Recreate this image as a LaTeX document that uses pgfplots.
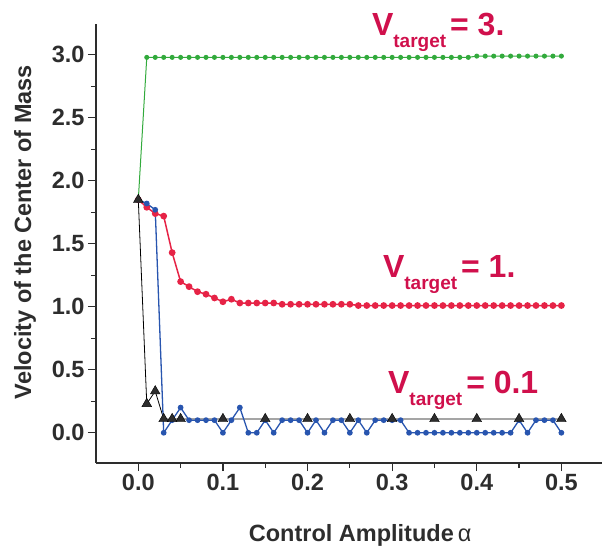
\documentclass[border=0pt]{standalone}
\usepackage{fontspec}
\setmainfont{Liberation Sans}
\usepackage{pgfplots}
\pgfplotsset{compat=1.18}

\definecolor{txtred}{RGB}{208,16,76}
\definecolor{lnred}{RGB}{230,35,70}
\definecolor{lngreen}{RGB}{50,170,60}
\definecolor{lnblue}{RGB}{40,85,175}
\definecolor{dgray}{RGB}{45,45,45}

\newcommand{\vt}[1]{V\raisebox{-12bp}{\fontsize{19bp}{22bp}\selectfont target}\hspace{4bp}#1}

\begin{document}
\begin{tikzpicture}
\useasboundingbox (0,0) rectangle (602bp,548bp);
\begin{axis}[
    at={(96bp,85bp)}, anchor=south west,
    scale only axis,
    width=506bp, height=439bp,
    xmin=-0.05, xmax=0.548,
    ymin=-0.24, ymax=3.245,
    axis lines=left,
    axis line style={-, line width=1.4bp, dgray},
    xtick={0,0.1,0.2,0.3,0.4,0.5},
    ytick={0,0.5,1,1.5,2,2.5,3},
    minor x tick num=1, minor y tick num=1,
    tick align=outside,
    major tick length=8bp, minor tick length=5bp,
    tick style={line width=1.2bp, dgray},
    xticklabel style={/pgf/number format/fixed, /pgf/number format/fixed zerofill, /pgf/number format/precision=1},
    yticklabel style={/pgf/number format/fixed, /pgf/number format/fixed zerofill, /pgf/number format/precision=1},
    /pgf/number format/assume math mode=true,
    ticklabel style={font=\fontsize{23.5bp}{28bp}\selectfont\bfseries, text=dgray},
    label style={font=\fontsize{23.5bp}{28bp}\selectfont\bfseries, text=dgray},
    xlabel={Control Amplitude\,{\mdseries α}},
    ylabel={Velocity of the Center of Mass},
    xlabel style={at={(axis description cs:0.522,-0.179)}, anchor=base},
    ylabel style={at={(axis description cs:-0.140,0.526)}, anchor=center},
    clip=false,
]
% V_target = 3
\addplot[lngreen, line width=1bp, mark=*, mark size=2bp, mark options={fill=lngreen}] coordinates {
(0,1.85) (0.01,2.98) (0.02,2.98) (0.03,2.98) (0.04,2.98) (0.05,2.98) (0.06,2.98) (0.07,2.98) (0.08,2.98) (0.09,2.98) (0.10,2.98)
(0.11,2.98) (0.12,2.98) (0.13,2.98) (0.14,2.98) (0.15,2.98) (0.16,2.98) (0.17,2.98) (0.18,2.98) (0.19,2.98) (0.20,2.98)
(0.21,2.98) (0.22,2.98) (0.23,2.98) (0.24,2.98) (0.25,2.98) (0.26,2.98) (0.27,2.98) (0.28,2.98) (0.29,2.98) (0.30,2.98)
(0.31,2.98) (0.32,2.98) (0.33,2.98) (0.34,2.98) (0.35,2.98) (0.36,2.98) (0.37,2.98) (0.38,2.98) (0.39,2.98) (0.40,2.99)
(0.41,2.99) (0.42,2.99) (0.43,2.99) (0.44,2.99) (0.45,2.99) (0.46,2.99) (0.47,2.99) (0.48,2.99) (0.49,2.99) (0.50,2.99)
};
% V_target = 1
\addplot[lnred, line width=1.5bp, mark=*, mark size=2.6bp, mark options={fill=lnred}] coordinates {
(0,1.85) (0.01,1.79) (0.02,1.74) (0.03,1.72) (0.04,1.43) (0.05,1.20) (0.06,1.16) (0.07,1.12) (0.08,1.10) (0.09,1.07) (0.10,1.04)
(0.11,1.06) (0.12,1.03) (0.13,1.03) (0.14,1.03) (0.15,1.03) (0.16,1.03) (0.17,1.02) (0.18,1.02) (0.19,1.02) (0.20,1.02)
(0.21,1.02) (0.22,1.02) (0.23,1.02) (0.24,1.02) (0.25,1.02) (0.26,1.01) (0.27,1.01) (0.28,1.01) (0.29,1.01) (0.30,1.01)
(0.31,1.01) (0.32,1.01) (0.33,1.01) (0.34,1.01) (0.35,1.01) (0.36,1.01) (0.37,1.01) (0.38,1.01) (0.39,1.01) (0.40,1.01)
(0.41,1.01) (0.42,1.01) (0.43,1.01) (0.44,1.01) (0.45,1.01) (0.46,1.01) (0.47,1.01) (0.48,1.01) (0.49,1.01) (0.50,1.01)
};
% V_target = 0.1, coarse (line)
\addplot[black, line width=0.8bp] coordinates {
(0,1.85) (0.01,0.23) (0.02,0.33) (0.03,0.11) (0.04,0.11) (0.05,0.11) (0.10,0.11) (0.15,0.11) (0.20,0.11)
(0.25,0.11) (0.30,0.11) (0.35,0.11) (0.40,0.11) (0.45,0.11) (0.50,0.11)
};
% V_target = 0.1, fine
\addplot[lnblue, line width=1.3bp, mark=*, mark size=2.2bp, mark options={fill=lnblue}] coordinates {
(0,1.85) (0.01,1.82) (0.02,1.77) (0.03,0.0) (0.04,0.1) (0.05,0.2) (0.06,0.1) (0.07,0.1) (0.08,0.1) (0.09,0.1) (0.10,0.0)
(0.11,0.1) (0.12,0.2) (0.13,0.0) (0.14,0.0) (0.15,0.1) (0.16,0.0) (0.17,0.1) (0.18,0.1) (0.19,0.1) (0.20,0.0)
(0.21,0.1) (0.22,0.0) (0.23,0.1) (0.24,0.1) (0.25,0.0) (0.26,0.1) (0.27,0.0) (0.28,0.1) (0.29,0.1) (0.30,0.1)
(0.31,0.1) (0.32,0.0) (0.33,0.0) (0.34,0.0) (0.35,0.0) (0.36,0.0) (0.37,0.0) (0.38,0.0) (0.39,0.0) (0.40,0.0)
(0.41,0.0) (0.42,0.0) (0.43,0.0) (0.44,0.0) (0.45,0.1) (0.46,0.0) (0.47,0.1) (0.48,0.1) (0.49,0.1) (0.50,0.0)
};
% V_target = 0.1, coarse (markers)
\addplot[only marks, mark=triangle*, mark size=5.6bp, mark options={fill=dgray, draw=black, line width=0.4bp}] coordinates {
(0,1.85) (0.01,0.23) (0.02,0.33) (0.03,0.11) (0.04,0.11) (0.05,0.11) (0.10,0.11) (0.15,0.11) (0.20,0.11)
(0.25,0.11) (0.30,0.11) (0.35,0.11) (0.40,0.11) (0.45,0.11) (0.50,0.11)
};

\node[anchor=base west, inner sep=0, text=txtred, font=\fontsize{32bp}{36bp}\selectfont\bfseries] at (axis cs:0.276,3.156) {\vt{= 3.}};
\node[anchor=base west, inner sep=0, text=txtred, font=\fontsize{32bp}{36bp}\selectfont\bfseries] at (axis cs:0.289,1.236) {\vt{= 1.}};
\node[anchor=base west, inner sep=0, text=txtred, font=\fontsize{32bp}{36bp}\selectfont\bfseries] at (axis cs:0.295,0.315) {\vt{= 0.1}};
\end{axis}
\end{tikzpicture}
\end{document}
